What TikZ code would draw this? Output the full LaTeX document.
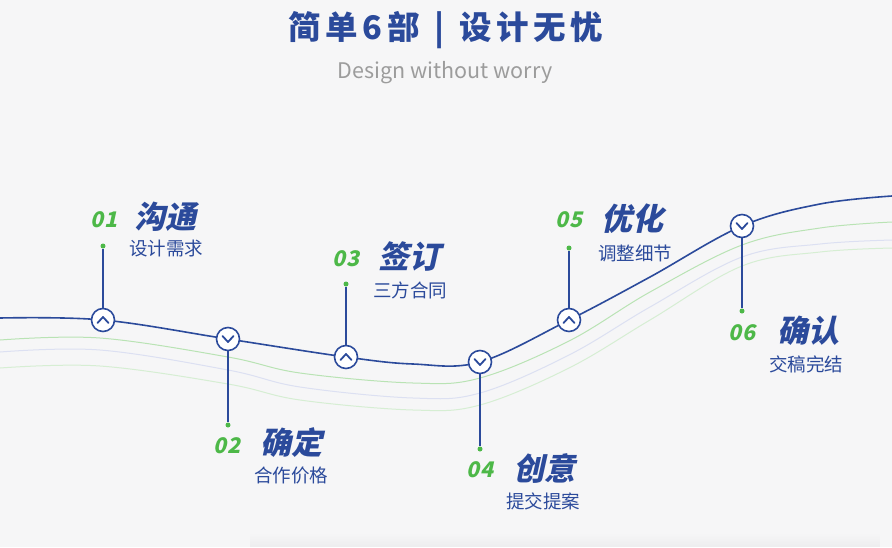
\documentclass[tikz,border=0pt]{standalone}
\usepackage{fontspec}
\setmainfont{Noto Sans CJK SC}
\newfontfamily\cjk{Noto Sans CJK SC}
\newfontfamily\cjkheavy[FakeSlant=0.22]{Noto Sans CJK SC Black}
\usetikzlibrary{positioning,fadings}

\definecolor{bg}{HTML}{F6F6F7}
\definecolor{navy}{HTML}{2B4A9B}
\definecolor{leaf}{HTML}{4DB848}
\definecolor{softgreen}{HTML}{B9E3B4}
\definecolor{lavender}{HTML}{DCE0F2}
\definecolor{palegreen}{HTML}{D6EED3}
\definecolor{greytext}{HTML}{9C9C9C}

\begin{document}
\begin{tikzpicture}[x=1pt, y=-1pt,
  stepnode/.style = {draw=navy, line width=1.6pt, fill=white, circle, minimum size=23pt, inner sep=0pt},
  chevron/.style = {navy, line width=1.8pt, line cap=round, line join=round},
  dot/.style = {fill=leaf, circle, minimum size=5pt, inner sep=0pt},
  stem/.style = {navy, line width=1.4pt},
  num/.style = {text=leaf, font=\cjkheavy\fontsize{21.5}{21.5}\selectfont, inner sep=0pt},
  head/.style = {text=navy, font=\cjkheavy\fontsize{31}{31}\selectfont, inner sep=0pt},
  sub/.style = {text=navy, font=\cjk\fontsize{18.5}{18.5}\selectfont, inner sep=0pt}]
	\fill[bg] (0,0) rectangle (892,547);
	\fill[black, opacity=0.035, path fading=north] (250,533) rectangle (880,547);
	\useasboundingbox (0,0) rectangle (892,547);

	% title
	\node[text=navy, font=\cjk\bfseries\fontsize{32.5}{32.5}\selectfont, inner sep=0pt] (title) at (446,30)
		{\addfontfeature{LetterSpace=14}简单6部\hspace{15pt}|\hspace{15pt}设计无忧};
	\node[text=greytext, font=\cjk\fontsize{21.5}{21.5}\selectfont, inner sep=0pt] (subtitle) at (445,73) {Design without worry};

	% background waves
	\draw[palegreen, line width=1pt] plot[smooth, tension=0.6] coordinates
		{(0,368) (100,366) (228,384) (300,400) (413,410) (480,405) (569,368) (650,320) (742,266) (820,252) (892,248)};
	\draw[lavender, line width=1pt] plot[smooth, tension=0.6] coordinates
		{(0,352) (100,350) (228,370) (300,387) (413,398) (480,393) (569,355) (650,307) (742,257) (820,244) (892,240)};
	\draw[softgreen, line width=1pt] plot[smooth, tension=0.6] coordinates
		{(0,340) (100,338) (228,357) (300,373) (413,383) (480,378) (569,341) (650,292) (742,245) (820,228) (892,222)};

	% main line
	\draw[navy, line width=1.6pt] plot[smooth, tension=0.6] coordinates
		{(0,318) (103,320) (228,339) (346,357) (413,364) (480,362) (569,320) (650,277) (742,226) (820,204) (892,196)};

	% steps
	\node[dot] (d1) at (103,246) {};
	\node[dot] (d2) at (228,425) {};
	\node[dot] (d3) at (346,284) {};
	\node[dot] (d4) at (480,449) {};
	\node[dot] (d5) at (569,248) {};
	\node[dot] (d6) at (742,311) {};
	\node[stepnode] (c1) at (103,320) {};
	\node[stepnode] (c2) at (228,339) {};
	\node[stepnode] (c3) at (346,357) {};
	\node[stepnode] (c4) at (480,362) {};
	\node[stepnode] (c5) at (569,320) {};
	\node[stepnode] (c6) at (742,226) {};
	\draw[stem] (c1) -- (d1);
	\draw[stem] (c2) -- (d2);
	\draw[stem] (c3) -- (d3);
	\draw[stem] (c4) -- (d4);
	\draw[stem] (c5) -- (d5);
	\draw[stem] (c6) -- (d6);
	\draw[chevron] ([shift={(-5.5,3)}]c1.center) -- ([shift={(0,-3)}]c1.center) -- ([shift={(5.5,3)}]c1.center);
	\draw[chevron] ([shift={(-5.5,-3)}]c2.center) -- ([shift={(0,3)}]c2.center) -- ([shift={(5.5,-3)}]c2.center);
	\draw[chevron] ([shift={(-5.5,3)}]c3.center) -- ([shift={(0,-3)}]c3.center) -- ([shift={(5.5,3)}]c3.center);
	\draw[chevron] ([shift={(-5.5,-3)}]c4.center) -- ([shift={(0,3)}]c4.center) -- ([shift={(5.5,-3)}]c4.center);
	\draw[chevron] ([shift={(-5.5,3)}]c5.center) -- ([shift={(0,-3)}]c5.center) -- ([shift={(5.5,3)}]c5.center);
	\draw[chevron] ([shift={(-5.5,-3)}]c6.center) -- ([shift={(0,3)}]c6.center) -- ([shift={(5.5,-3)}]c6.center);

	% labels
	\node[head] (t1) at (165,217) {沟通};
	\node[head] (t2) at (291,443) {确定};
	\node[head] (t3) at (409,256) {签订};
	\node[head] (t4) at (544,468) {创意};
	\node[head] (t5) at (632,219) {优化};
	\node[head] (t6) at (808,331) {确认};
	\node[num] (n1) at (104,220) {01};
	\node[num] (n2) at (227,446) {02};
	\node[num] (n3) at (346,259) {03};
	\node[num] (n4) at (480,470) {04};
	\node[num] (n5) at (569,220) {05};
	\node[num] (n6) at (742,333) {06};
	\node[sub] (s1) at (166,249) {设计需求};
	\node[sub] (s2) at (291,476) {合作价格};
	\node[sub] (s3) at (410,290) {三方合同};
	\node[sub] (s4) at (543,501) {提交提案};
	\node[sub] (s5) at (635,253) {调整细节};
	\node[sub] (s6) at (806,364) {交稿完结};
\end{tikzpicture}
\end{document}
